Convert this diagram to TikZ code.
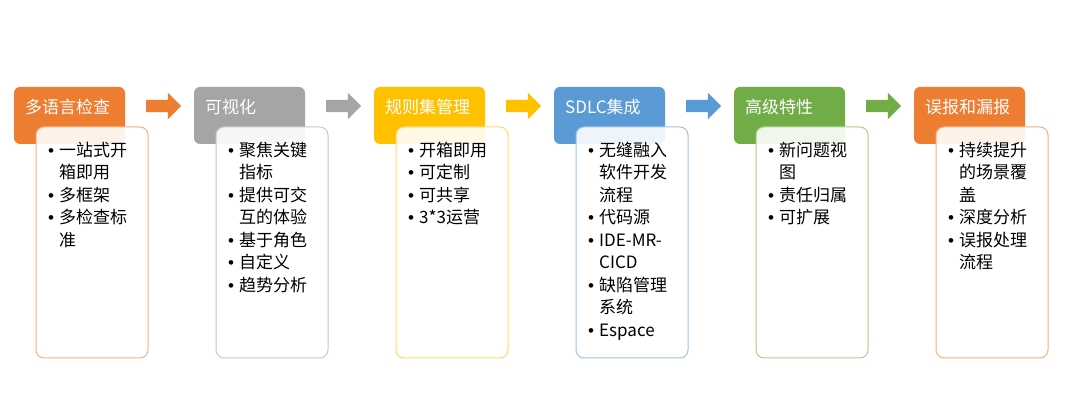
\documentclass[tikz,border=0pt]{standalone}
\usepackage{fontspec}
\setmainfont{Noto Sans CJK SC}
\newfontfamily\bulfont{Liberation Sans}
\usetikzlibrary{shapes.arrows}
\definecolor{cOr}{HTML}{ED7D31}
\definecolor{cOrL}{HTML}{F4B183}
\definecolor{cGy}{HTML}{A5A5A5}
\definecolor{cGyL}{HTML}{C9C9C9}
\definecolor{cGd}{HTML}{FFC000}
\definecolor{cGdL}{HTML}{FFD966}
\definecolor{cBl}{HTML}{5B9BD5}
\definecolor{cBlL}{HTML}{9DC3E6}
\definecolor{cGn}{HTML}{70AD47}
\definecolor{cGnL}{HTML}{A9D18E}
\newcommand{\bl}{\makebox[11pt][l]{\bulfont •}}
\newcommand{\cn}{\hspace*{11pt}}
\newcommand{\stage}[6]{%
  \node[hdr, fill=#3] (h#1) at (#2,87) {};
  \node[bodybox, draw=#4] (b#1) at ({#2+22},127) {};
  \node[htext] (ht#1) at ({#2+11},113.5) {#5};
  \foreach \tline [count=\k] in {#6}
    \node[btext] (t#1-\k) at ({#2+34},{156.5+22.5*(\k-1)}) {\tline};
}
\begin{document}
\begin{tikzpicture}[x=1pt,y=-1pt,
  hdr/.style={rounded corners=6pt, draw=none, minimum width=111pt, minimum height=57pt,
    anchor=north west, inner sep=0pt, outer sep=0pt},
  bodybox/.style={rounded corners=8pt, fill=white, fill opacity=0.9, line width=1pt,
    minimum width=112pt, minimum height=231pt, anchor=north west, inner sep=0pt, outer sep=0pt},
  htext/.style={anchor=base west, inner sep=0pt, text=white, font=\fontsize{17pt}{20pt}\selectfont},
  btext/.style={anchor=base west, inner sep=0pt, text=black, font=\fontsize{17pt}{20pt}\selectfont},
  arw/.style={single arrow, draw=none, minimum height=35pt, inner xsep=0pt, inner ysep=6pt,
    single arrow head extend=7pt, outer sep=0pt}
]
\useasboundingbox (0,0) rectangle (1080,411);
\fill[white] (0,0) rectangle (1080,411);

\stage{1}{14}{cOr}{cOrL}{多语言检查}{\bl 一站式开,\cn 箱即用,\bl 多框架,\bl 多检查标,\cn 准}
\stage{2}{194}{cGy}{cGyL}{可视化}{\bl 聚焦关键,\cn 指标,\bl 提供可交,\cn 互的体验,\bl 基于角色,\bl 自定义,\bl 趋势分析}
\stage{3}{374}{cGd}{cGdL}{规则集管理}{\bl 开箱即用,\bl 可定制,\bl 可共享,\bl 3*3运营}
\stage{4}{554}{cBl}{cBlL}{SDLC集成}{\bl 无缝融入,\cn 软件开发,\cn 流程,\bl 代码源,\bl IDE-MR-,\cn CICD,\bl 缺陷管理,\cn 系统,\bl Espace}
\stage{5}{734}{cGn}{cGnL}{高级特性}{\bl 新问题视,\cn 图,\bl 责任归属,\bl 可扩展}
\stage{6}{914}{cOr}{cOrL}{误报和漏报}{\bl 持续提升,\cn 的场景覆,\cn 盖,\bl 深度分析,\bl 误报处理,\cn 流程}

\node[arw, fill=cOr] (a1) at (160.5,106) {};
\node[arw, fill=cGy] (a2) at (340.5,106) {};
\node[arw, fill=cGd] (a3) at (520.5,106) {};
\node[arw, fill=cBl] (a4) at (700.5,106) {};
\node[arw, fill=cGn] (a5) at (880.5,106) {};
\end{tikzpicture}
\end{document}
